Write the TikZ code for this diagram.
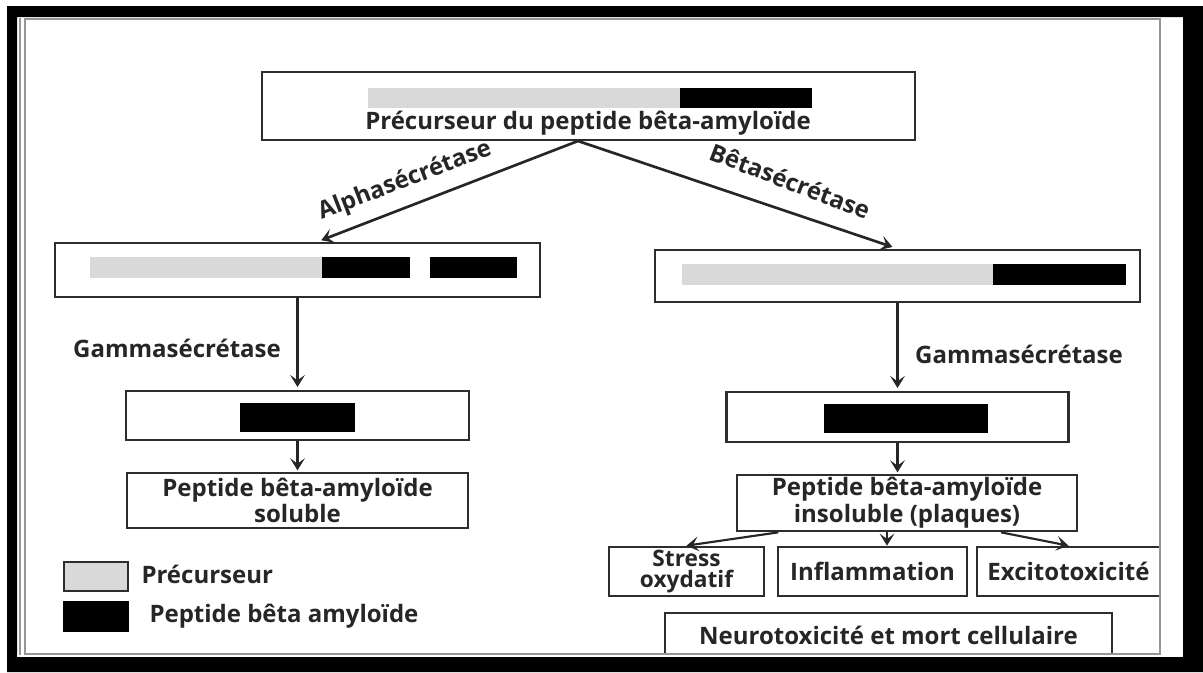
\documentclass[tikz,border=0pt]{standalone}
\usepackage{fontspec}
\setmainfont{Open Sans}
\usetikzlibrary{arrows.meta}

\definecolor{barGray}{RGB}{217,217,217}
\definecolor{lineGray}{RGB}{45,45,45}
\definecolor{frameGray}{RGB}{150,150,150}

\tikzset{every picture/.style={line width=0.75pt}}
\tikzset{
  stage/.style={draw=lineGray, line width=2pt, fill=white, inner sep=0pt, align=center},
  label/.style={font=\fontsize{18}{20}\selectfont\bfseries, text=black!85, inner sep=0.75pt, align=center},
  flow/.style={draw=black!85, line width=2pt, -{Stealth[length=9pt, width=11pt, inset=4pt]}},
}

\begin{document}
\begin{tikzpicture}[x=0.75pt,y=0.75pt,yscale=-1,xscale=1]
	\useasboundingbox (0,0) rectangle (1203,672);
	
	%Shape: Rectangle [id:precursor]
	\node (precursor) [stage, minimum width=489.75pt, minimum height=51pt] at (588.5,106) {};
	\fill [barGray] (368,88) rectangle (680,108);
	\fill [black] (680,88) rectangle (812,108);
	% Text Node
	\node (precLabel) [label] at (588,123) {Précurseur du peptide bêta-amyloïde};
	
	%Shape: Rectangle [id:alpha]
	\node (alpha) [stage, minimum width=363.75pt, minimum height=40.5pt] at (297.5,270) {};
	\fill [barGray] (90,257) rectangle (322,278);
	\fill [black] (322,257) rectangle (410,278);
	\fill [black] (430,257) rectangle (517,278);
	%Shape: Rectangle [id:beta]
	\node (beta) [stage, minimum width=363.75pt, minimum height=39pt] at (897.5,276) {};
	\fill [barGray] (682,264) rectangle (993,285);
	\fill [black] (993,264) rectangle (1126,285);
	
	%Shape: Rectangle [id:fragA]
	\node (fragA) [stage, minimum width=257.25pt, minimum height=36.75pt] at (297.5,415.5) {};
	\fill [black] (240,403) rectangle (355,432);
	%Shape: Rectangle [id:fragB]
	\node (fragB) [stage, minimum width=256.5pt, minimum height=37.5pt] at (897.5,417) {};
	\fill [black] (824,404) rectangle (988,433);
	
	% Text Node
	\node (solA) [stage, label, minimum width=255.75pt, minimum height=41.25pt] at (297.5,500.5) {Peptide bêta-amyloïde\\soluble};
	% Text Node
	\node (solB) [stage, label, minimum width=255pt, minimum height=42pt] at (907,503) {Peptide bêta-amyloïde\\insoluble (plaques)};
	
	% Text Node
	\node (stress) [stage, label, font=\fontsize{17}{15.5}\selectfont\bfseries, minimum width=116.25pt, minimum height=36.75pt] at (686.5,571.5) {Stress\\oxydatif};
	% Text Node
	\node (inflam) [stage, label, minimum width=141.75pt, minimum height=36.75pt] at (872.5,571.5) {Inflammation};
	% Text Node
	\node (excito) [stage, label, minimum width=137.25pt, minimum height=36.75pt] at (1068.5,571.5) {Excitotoxicité};
	% Text Node
	\node (neuro) [stage, label, minimum width=335.25pt, minimum height=33pt] at (888.5,635) {Neurotoxicité et mort cellulaire};
	
	%Straight Lines
	\coordinate (split) at (578,141);
	\draw [flow, shorten >=3pt] (split) -- ([xshift=15pt]alpha.north);
	\draw [flow, shorten >=4pt] (split) -- (beta.north);
	\draw [flow, shorten >=2pt] (alpha.south) -- (fragA.north);
	\draw [flow, shorten >=2pt] (beta.south) -- (fragB.north);
	\draw [flow, shorten >=1pt] (fragA.south) -- (solA.north);
	\draw [flow, shorten >=1pt] (fragB.south) -- (fragB.south |- solB.north);
	\draw [flow, line width=1.6pt] ([xshift=32pt]solB.south west) -- (stress.north);
	\draw [flow, line width=1.6pt] ([xshift=-15pt]solB.south) -- ([xshift=-15pt]solB.south |- inflam.north);
	\draw [flow, line width=1.6pt] ([xshift=-58pt]solB.south east) -- (excito.north);
	
	% Text Node
	\node (alphaLabel) [label, rotate=21] at (405,181) {Alphasécrétase};
	% Text Node
	\node (betaLabel) [label, rotate=-21] at (790,181) {Bêtasécrétase};
	% Text Node
	\node (gammaA) [label] at (177,348) {Gammasécrétase};
	% Text Node
	\node (gammaB) [label] at (1019,354) {Gammasécrétase};
	
	%Shape: Rectangle [id:legend]
	\node (keyPrec) [stage, fill=barGray, minimum width=48pt, minimum height=21.75pt] at (96,576.5) {};
	\node (keyPeptide) [stage, draw=black, fill=black, minimum width=48pt, minimum height=21.75pt] at (96,616.5) {};
	% Text Node
	\node (keyPrecLabel) [label, anchor=west] at (140,574) {Précurseur};
	% Text Node
	\node (keyPeptideLabel) [label, anchor=west] at (148,616) {Peptide bêta amyloïde};
	
	%Shape: Frame
	\fill [black, even odd rule] (7,6) rectangle (1203,672) (17,17) rectangle (1183,657);
	\fill [white] (17,655) rectangle (1183,657);
	\draw [frameGray, line width=1.2pt] (25,19) rectangle (1160,654);
	\draw [frameGray, line width=1.2pt] (20,18) -- (20,655);
	
\end{tikzpicture}
\end{document}
